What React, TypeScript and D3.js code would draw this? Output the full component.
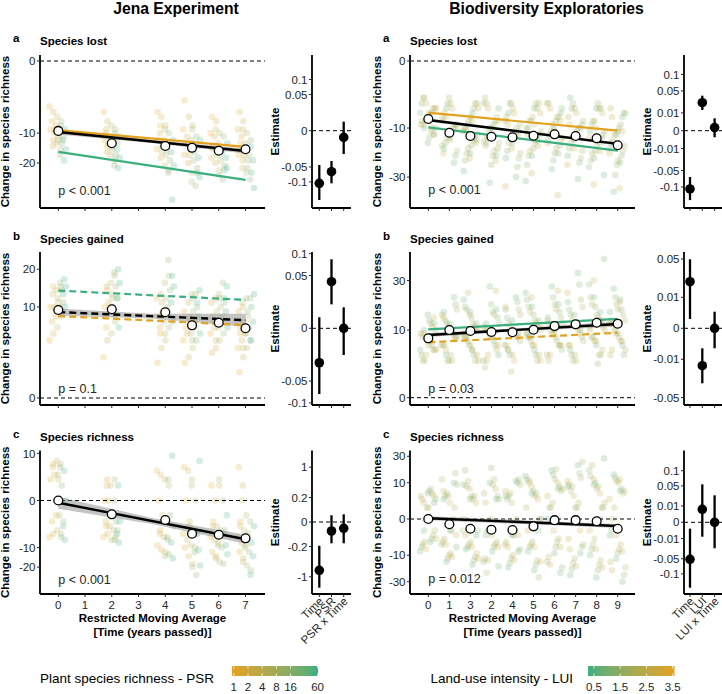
import React from "react";
import * as d3 from "d3";

const FONT = "'Liberation Sans', Arial, Helvetica, sans-serif";
const INK = "#262626";
const ORANGE = "#E2A21F";
const GREEN = "#3BAF7E";

// ---------------- Jena Experiment ----------------
const jenaTimes = [0, 2, 4, 5, 6, 7];
const jenaTickTimes = [0, 1, 2, 3, 4, 5, 6, 7];
const psrLevels = [1, 2, 4, 8, 16, 60];

// values per time step, then per sown plant species richness level
const jenaLost = [
  [[-4, -7, -9, -12], [-5, -8, -10, -14], [-6, -9, -11, -13], [-7, -10, -12, -15], [-8, -11, -13, -17], [-9, -12, -15, -19]],
  [[-5, -9, -12, -14], [-7, -10, -13, -16], [-8, -11, -14, -17], [-9, -12, -15, -19], [-10, -13, -17, -21], [-11, -15, -18, -22]],
  [[-5, -8, -12, -15], [-6, -10, -14, -18], [-8, -12, -16, -21], [-9, -13, -17, -23], [-10, -15, -19, -24], [-12, -16, -21, -37]],
  [[-3, -9, -13, -17], [-6, -11, -15, -20], [-8, -12, -17, -24], [-9, -14, -19, -28], [-11, -16, -22, -30], [-12, -18, -24, -26]],
  [[-6, -10, -14, -18], [-7, -11, -15, -20], [-9, -13, -17, -23], [-10, -14, -19, -25], [-11, -16, -21, -27], [-13, -18, -23, -22]],
  [[-5, -9, -13, -17], [-7, -11, -15, -19], [-9, -13, -17, -22], [-10, -15, -19, -24], [-12, -17, -22, -27], [-14, -19, -24, -31]],
];
const jenaGained = [
  [[4, 7, 10, 15], [5, 8, 10, 13], [6, 9, 11, 14], [8, 10, 12, 15], [9, 11, 14, 16], [10, 13, 15, 17]],
  [[2, 6, 10, 14], [4, 8, 11, 15], [5, 9, 12, 16], [7, 10, 13, 18], [8, 12, 15, 19], [6, 12, 16, 20]],
  [[1.5, 5, 8, 12], [3, 6, 9, 13], [4, 7, 11, 16], [5, 9, 12, 18], [6, 10, 14, 23], [7, 11, 15, 18]],
  [[1.5, 4, 6, 9], [2, 5, 7, 11], [3, 5, 8, 12], [4, 6, 9, 13], [4, 7, 10, 13], [5, 8, 11, 14]],
  [[2.5, 5, 7, 11], [3, 6, 8, 12], [4, 6, 9, 12], [4, 7, 10, 13], [5, 8, 11, 16], [6, 9, 12, 15]],
  [[0.8, 3, 5, 9], [2, 4, 6, 10], [3, 5, 7, 11], [3, 5, 8, 12], [4, 6, 9, 12], [4, 7, 10, 13]],
];
const jenaRichness = [
  [[-6, -2, 2, 6], [-5, -1, 3, 5], [-4, 0, 2, 7], [-5, -1, 3, 6], [-6, -2, 1, 5], [-7, -3, 0, 4]],
  [[-6, -3, 0, 2], [-5, -2, 0, 1], [-7, -3, -1, 1], [-6, -4, -1, 2], [-7, -4, -2, 0], [-8, -5, -2, 1]],
  [[-9, -4, 0, 4], [-11, -5, -1, 3], [-12, -6, -2, 2], [-14, -7, -2, 1], [-13, -6, -1, 2], [-15, -8, -3, 9]],
  [[-10, -5, 0, 5], [-14, -7, -2, 4], [-18, -9, -3, 2], [-20, -10, -4, 1], [-25, -12, -5, 0], [-19, -11, -5, 7]],
  [[-12, -6, -2, 1], [-14, -7, -3, 0], [-15, -8, -3, 1], [-17, -9, -4, 2], [-18, -10, -4, 0], [-13, -9, -5, -1]],
  [[-12, -6, -2, 5], [-15, -8, -3, 1], [-17, -9, -4, 0], [-19, -10, -5, -1], [-22, -12, -6, -2], [-25, -14, -8, -3]],
];

const jenaLostMean = [-9.4, -13.0, -13.9, -14.5, -15.5, -15.0];
const jenaGainedMean = [9.34, 9.5, 8.86, 6.37, 6.84, 5.86];
const jenaRichnessMean = [0, -0.86, -1.71, -4.96, -5.27, -6.44];

// fitted lines: value at first and last time step; bands: first, middle, last
const jenaLostFit = [-9.7, -15.6];
const jenaLostBandLo = [-10.4, -12.97, -16.5];
const jenaLostBandHi = [-9.02, -11.99, -14.75];
const jenaLostLowPSR = [-9.2, -14.2];
const jenaLostHighPSR = [-15.9, -27.2];

const jenaGainedFit = [8.9, 7.3];
const jenaGainedBandLo = [8.19, 7.6, 6.13];
const jenaGainedBandHi = [9.64, 8.58, 8.57];
const jenaGainedLowPSR = [8.1, 6.4];
const jenaGainedHighPSR = [13.9, 11.6];

const jenaRichnessFit = [-0.022, -6.78];
const jenaRichnessBandLo = [-0.3, -2.49, -8.45];
const jenaRichnessBandHi = [0.065, -1.38, -5.3];

const jenaTerms = ["Time", "PSR", "PSR x Time"];
const jenaLostEst = [-0.1055, -0.064, -0.0017];
const jenaLostLo = [-0.183, -0.1055, -0.0207];
const jenaLostHi = [-0.0448, -0.035, 0.0031];
const jenaGainedEst = [-0.0213, 0.039, 0];
const jenaGainedLo = [-0.0775, 0.0103, -0.0128];
const jenaGainedHi = [0.0022, 0.0855, 0.0079];
const jenaRichnessEst = [-0.776, -0.027, -0.0132];
const jenaRichnessLo = [-1.437, -0.151, -0.151];
const jenaRichnessHi = [-0.187, 0.0149, 0.0197];

// ---------------- Biodiversity Exploratories ----------------
const beSteps = ["0", "1", "3", "2", "4", "5", "6", "7", "8", "9"];
const luiLevels = [0.7, 1.3, 1.8, 2.3, 2.9];

const beLost = [
  [[-6, -8, -10, -12, -15], [-4, -6, -8, -10, -13], [-3, -5, -7, -9, -11], [-3, -5, -6, -8, -10], [-4, -5, -7, -9, -12]],
  [[-5, -9, -13, -17, -23], [-4, -8, -11, -15, -20], [-3, -7, -10, -13, -18], [-4, -6, -9, -12, -16], [-5, -7, -10, -14, -19]],
  [[-6, -10, -14, -19, -27], [-5, -9, -12, -16, -22], [-4, -8, -11, -14, -19], [-4, -7, -10, -13, -17], [-5, -8, -11, -15, -21]],
  [[-5, -10, -15, -20, -33], [-4, -9, -13, -17, -24], [-3, -8, -11, -15, -20], [-4, -7, -10, -14, -18], [-5, -8, -12, -16, -22]],
  [[-6, -11, -15, -21, -30], [-4, -9, -13, -18, -25], [-4, -8, -12, -15, -21], [-5, -7, -10, -13, -19], [-6, -9, -12, -17, -35]],
  [[-5, -10, -14, -20, -32], [-4, -8, -12, -17, -24], [-5, -8, -11, -15, -20], [-4, -7, -10, -14, -18], [-6, -9, -12, -16, -28]],
  [[-6, -10, -14, -19, -26], [-5, -8, -12, -16, -22], [-4, -7, -11, -14, -19], [-4, -7, -9, -13, -17], [-5, -8, -11, -15, -40]],
  [[-3, -10, -14, -20, -31], [-5, -9, -12, -17, -23], [-4, -8, -11, -15, -21], [-5, -7, -10, -13, -18], [-6, -9, -13, -17, -24]],
  [[-5, -11, -15, -21, -29], [-4, -9, -13, -18, -25], [-5, -8, -12, -16, -22], [-5, -8, -11, -14, -19], [-6, -10, -13, -18, -34]],
  [[-7, -12, -17, -23, -38], [-6, -11, -15, -20, -29], [-6, -10, -14, -18, -24], [-5, -9, -12, -16, -22], [-7, -11, -15, -19, -36]],
];
const beGained = [
  [[5, 8, 10, 12, 15], [4, 6, 8, 10, 13], [3, 5, 7, 9, 12], [3, 5, 6, 8, 11], [4, 5, 7, 9, 14]],
  [[4, 8, 12, 16, 22], [3, 6, 10, 13, 19], [3, 6, 9, 12, 17], [4, 6, 8, 11, 15], [3, 5, 8, 10, 14]],
  [[5, 8, 12, 16, 21], [4, 7, 10, 14, 18], [3, 6, 9, 12, 17], [4, 6, 8, 11, 24], [3, 5, 8, 10, 15]],
  [[4, 8, 12, 17, 27], [3, 7, 10, 14, 19], [2, 6, 9, 12, 16], [3, 5, 8, 11, 15], [4, 6, 8, 10, 25]],
  [[5, 9, 13, 17, 22], [4, 7, 10, 14, 20], [1.5, 6, 9, 12, 17], [4, 6, 8, 11, 15], [3, 5, 8, 10, 18]],
  [[5, 9, 13, 18, 24], [4, 8, 11, 15, 21], [3, 7, 10, 13, 18], [4, 6, 9, 12, 16], [3, 6, 8, 11, 22]],
  [[6, 10, 14, 19, 27], [5, 8, 12, 16, 22], [4, 7, 10, 14, 19], [3, 6, 9, 12, 17], [4, 6, 9, 13, 25]],
  [[5, 10, 15, 20, 34], [4, 8, 12, 17, 28], [3, 7, 11, 15, 21], [4, 6, 10, 13, 18], [3, 6, 9, 12, 24]],
  [[6, 11, 16, 22, 42], [2.5, 8, 13, 18, 28], [4, 8, 11, 15, 22], [4, 7, 10, 14, 19], [5, 7, 10, 13, 30]],
  [[6, 11, 16, 21, 26], [4, 9, 13, 17, 22], [5, 8, 12, 15, 19], [4, 7, 10, 13, 17], [5, 7, 9, 12, 20]],
];
const beRichness = [
  [[-8, -4, -1, 2, 5], [-6, -3, 0, 3, 6], [-5, -2, 1, 4, 7], [-4, -1, 1, 3, 5], [-7, -3, 0, 2, 4]],
  [[-14, -6, -1, 3, 10], [-12, -5, -1, 4, 16], [-10, -4, 0, 5, 9], [-9, -3, 1, 4, 12], [-11, -5, -2, 2, 6]],
  [[-16, -7, -2, 3, 9], [-13, -6, -1, 4, 18], [-11, -5, -1, 3, 8], [-9, -4, 0, 4, 11], [-12, -6, -2, 2, 7]],
  [[-17, -8, -2, 3, 10], [-14, -6, -1, 4, 20], [-12, -5, -1, 3, 9], [-22, -4, 0, 5, 12], [-13, -6, -2, 2, 7]],
  [[-18, -8, -2, 4, 11], [-15, -7, -2, 3, 10], [-12, -5, -1, 4, 12], [-10, -4, 0, 5, 9], [-13, -6, -2, 2, 6]],
  [[-20, -8, -1, 5, 14], [-16, -6, 0, 6, 12], [-13, -5, 0, 4, 10], [-26, -4, 1, 5, 11], [-14, -6, -1, 3, 8]],
  [[-22, -9, 0, 7, 18], [-18, -6, 1, 8, 15], [-14, -4, 1, 6, 12], [-11, -3, 2, 7, 19], [-16, -6, -1, 4, 10]],
  [[-24, -9, 0, 8, 22], [-19, -6, 1, 9, 16], [-15, -5, 1, 6, 13], [-12, -3, 2, 8, 25], [-17, -7, -1, 4, 11]],
  [[-26, -10, 0, 9, 28], [-20, -7, 1, 10, 18], [-16, -5, 1, 7, 14], [-13, -3, 2, 8, 22], [-18, -7, -1, 5, 12]],
  [[-30, -12, -2, 6, 15], [-24, -9, -1, 7, 13], [-18, -7, 0, 5, 11], [-14, -5, 1, 6, 10], [-20, -8, -2, 3, 12]],
];

const beLostMean = [-7.49, -11.44, -12.52, -12.75, -12.96, -12.42, -11.96, -12.52, -13.3, -15.8];
const beGainedMean = [7.7, 10.0, 9.71, 9.43, 9.34, 10.1, 11.2, 11.76, 12.28, 11.96];
const beRichnessMean = [0, -0.21, -0.72, -0.87, -0.92, -0.41, -0.01, -0.01, -0.04, -0.72];

const beLostFit = [-7.75, -15.3];
const beLostBandLo = [-8.15, -11.55, -15.86];
const beLostBandHi = [-7.37, -10.88, -14.76];
const beLostHighLUI = [-5.95, -10.8];
const beLostLowLUI = [-9.78, -17.9];

const beGainedFit = [8.58, 11.86];
const beGainedBandLo = [8.04, 9.71, 11.07];
const beGainedBandHi = [9.13, 10.6, 12.68];
const beGainedHighLUI = [6.7, 9.22];
const beGainedLowLUI = [10.2, 13.6];

const beRichnessFit = [0.004, -0.374];
const beRichnessBandLo = [-0.013, -0.2, -0.618];
const beRichnessBandHi = [0.056, -0.01, -0.19];

const beTerms = ["Time", "LUI", "LUI x Time"];
const beLostEst = [-0.107, 0.0247, 0.0003];
const beLostLo = [-0.152, 0.0135, -0.00137];
const beLostHi = [-0.0676, 0.0387, 0.00485];
const beGainedEst = [0.0226, -0.01455, 0];
const beGainedLo = [0.0009, -0.0315, -0.00416];
const beGainedHi = [0.0496, -0.00416, 0.00287];
const beRichnessEst = [-0.0515, 0.00637, 0];
const beRichnessLo = [-0.161, -0.0078, -0.0254];
const beRichnessHi = [-0.0015, 0.0543, 0.0274];

// ---------------- legends ----------------
const psrLegendTicks = [1, 2, 4, 8, 16, 60];
const luiLegendTicks = [0.5, 1.5, 2.5, 3.5];

// ---------------- helpers ----------------
function ySqrt(zero: number, k: number, top: number, bot: number) {
  const hi = Math.pow((zero - top) / k, 2);
  const lo = -Math.pow((bot - zero) / k, 2);
  return d3.scaleSqrt().domain([lo, hi]).range([bot, top]);
}

const psrColor = (v: number) => d3.interpolateLab(ORANGE, GREEN)(Math.log2(v) / Math.log2(60));
const luiColor = (v: number) => d3.interpolateLab(GREEN, ORANGE)(Math.max(0, Math.min(1, (v - 0.27) / 3.3)));

type Pt = { x: number; y: number; c: string };

function jenaPoints(data: number[][][]): Pt[] {
  const out: Pt[] = [];
  data.forEach((byPsr, ti) => {
    byPsr.forEach((vals, pi) => {
      vals.forEach((v, j) => {
        const jit = (((j * 0.618 + pi * 0.29 + ti * 0.13) % 1) - 0.5) * 0.16;
        out.push({ x: jenaTimes[ti] + (pi - 2.5) * 0.1 + jit, y: v, c: psrColor(psrLevels[pi]) });
      });
    });
  });
  return out;
}

function bePoints(data: number[][][]): Pt[] {
  const out: Pt[] = [];
  data.forEach((byLui, ci) => {
    let n = 0;
    byLui.forEach((vals, li) => {
      vals.forEach((v) => {
        const off = (((n * 0.618034 + ci * 0.31) % 1) - 0.5) * 0.78;
        n++;
        out.push({ x: ci + off, y: v, c: luiColor(luiLevels[li]) });
      });
    });
  });
  return out;
}

type Fit = { ys: number[]; color: string; dash?: string; width: number };

type MainProps = {
  xs: d3.ScaleLinear<number, number>;
  ys: d3.ScalePower<number, number>;
  x0: number; x1: number; top: number; bot: number;
  xTicks: number[]; xLabels?: string[];
  yTicks: number[];
  pts: Pt[];
  xFirst: number; xLast: number;
  bandLo: number[]; bandHi: number[];
  fits: Fit[];
  meanX: number[]; means: number[];
  pText: string; pY: number;
  letter: string; letterX: number; title: string; titleY: number;
  yTitleX: number;
};

function MainPanel(p: MainProps) {
  const { xs, ys } = p;
  const xMid = (p.xFirst + p.xLast) / 2;
  const bandData = [0, 1, 2].map((i) => ({ x: [p.xFirst, xMid, p.xLast][i], lo: p.bandLo[i], hi: p.bandHi[i] }));
  const area = d3.area<{ x: number; lo: number; hi: number }>()
    .x((d) => xs(d.x)).y0((d) => ys(d.lo)).y1((d) => ys(d.hi));
  const line = d3.line<[number, number]>().x((d) => xs(d[0])).y((d) => ys(d[1]));
  const cy = (p.top + p.bot) / 2;
  return (
    <g>
      {p.pts.map((d, i) => (
        <circle key={i} cx={xs(d.x)} cy={ys(d.y)} r={3.3} fill={d.c} fillOpacity={0.22} />
      ))}
      <line x1={p.x0} x2={p.x1} y1={ys(0)} y2={ys(0)} stroke="#000" strokeWidth={1} strokeDasharray="4,3" />
      <path d={area(bandData) || ""} fill="#8a8a8a" fillOpacity={0.5} />
      {p.fits.map((f, i) => (
        <path key={i} d={line([[p.xFirst, f.ys[0]], [p.xLast, f.ys[1]]]) || ""} stroke={f.color}
          strokeWidth={f.width} strokeDasharray={f.dash} fill="none" />
      ))}
      {p.means.map((m, i) => (
        <circle key={i} cx={xs(p.meanX[i])} cy={ys(m)} r={4.4} fill="#fff" stroke="#000" strokeWidth={1.3} />
      ))}
      <line x1={p.x0} x2={p.x0} y1={p.top} y2={p.bot} stroke="#000" strokeWidth={1.8} />
      <line x1={p.x0} x2={p.x1} y1={p.bot} y2={p.bot} stroke="#000" strokeWidth={1.8} />
      {p.yTicks.map((t) => (
        <g key={t}>
          <line x1={p.x0 - 3} x2={p.x0} y1={ys(t)} y2={ys(t)} stroke={INK} strokeWidth={1} />
          <text x={p.x0 - 4.5} y={ys(t)} dy="0.36em" textAnchor="end" fontSize={11.5} fill={INK}>{String(t)}</text>
        </g>
      ))}
      {p.xTicks.map((t, i) => (
        <g key={i}>
          <line x1={xs(t)} x2={xs(t)} y1={p.bot} y2={p.bot + 3} stroke={INK} strokeWidth={1} />
          {p.xLabels && (
            <text x={xs(t)} y={p.bot + 14.5} textAnchor="middle" fontSize={11.5} fill={INK}>{p.xLabels[i]}</text>
          )}
        </g>
      ))}
      <text x={xs(p.xFirst)} y={p.pY} fontSize={12.5} fill={INK}>{p.pText}</text>
      <text x={p.letterX} y={p.titleY - 3} fontSize={11.5} fontWeight="bold" fill="#000">{p.letter}</text>
      <text x={p.x0} y={p.titleY} fontSize={11.5} fontWeight="bold" fill="#000">{p.title}</text>
      <text transform={`translate(${p.yTitleX},${cy}) rotate(-90)`} textAnchor="middle" fontSize={11.5}
        fontWeight="bold" fill="#000">Change in species richness</text>
    </g>
  );
}

type EstProps = {
  ys: d3.ScalePower<number, number>;
  x0: number; x1: number; t0: number; t1: number;
  top: number; bot: number;
  terms: string[]; est: number[]; lo: number[]; hi: number[];
  yTicks: number[]; showLabels: boolean; titleX: number;
};

function EstPanel(p: EstProps) {
  const xs = d3.scalePoint<string>().domain(p.terms).range([p.t0, p.t1]);
  const ys = p.ys;
  const cy = (p.top + p.bot) / 2;
  return (
    <g>
      <line x1={p.x0} x2={p.x1} y1={ys(0)} y2={ys(0)} stroke="#000" strokeWidth={1} strokeDasharray="4,3" />
      {p.terms.map((t, i) => (
        <g key={t}>
          <line x1={xs(t)} x2={xs(t)} y1={ys(p.lo[i])} y2={ys(p.hi[i])} stroke="#000" strokeWidth={2.3} />
          <circle cx={xs(t)} cy={ys(p.est[i])} r={4.8} fill="#000" />
        </g>
      ))}
      <line x1={p.x0} x2={p.x0} y1={p.top} y2={p.bot} stroke="#000" strokeWidth={1.8} />
      <line x1={p.x0} x2={p.x1} y1={p.bot} y2={p.bot} stroke="#000" strokeWidth={1.8} />
      {p.yTicks.map((t) => (
        <g key={t}>
          <line x1={p.x0 - 3} x2={p.x0} y1={ys(t)} y2={ys(t)} stroke={INK} strokeWidth={1} />
          <text x={p.x0 - 4.5} y={ys(t)} dy="0.36em" textAnchor="end" fontSize={11.5} fill={INK}>{String(t)}</text>
        </g>
      ))}
      {p.terms.map((t) => (
        <g key={t}>
          <line x1={xs(t)} x2={xs(t)} y1={p.bot} y2={p.bot + 3} stroke={INK} strokeWidth={1} />
          {p.showLabels && (
            <text transform={`translate(${(xs(t) || 0) + 2},${p.bot + 5}) rotate(-45)`} dy="0.35em"
              textAnchor="end" fontSize={11.5} fill={INK}>{t}</text>
          )}
        </g>
      ))}
      <text transform={`translate(${p.titleX},${cy}) rotate(-90)`} textAnchor="middle" fontSize={11.5}
        fontWeight="bold" fill="#000">Estimate</text>
    </g>
  );
}

const ROWS = [
  { top: 55, bot: 208, titleY: 45 },
  { top: 252, bot: 405, titleY: 242.5 },
  { top: 450.5, bot: 594, titleY: 441 },
];

export default function App() {
  const jx = d3.scaleLinear().domain([0, 7]).range([58.3, 245.5]);
  const bx = d3.scaleLinear().domain([0, 9]).range([428.3, 617.7]);
  const beIdx = beSteps.map((_, i) => i);

  const jenaRows = [
    {
      ys: ySqrt(61, 22.8, ROWS[0].top, ROWS[0].bot), yTicks: [0, -10, -20], data: jenaLost, means: jenaLostMean,
      fit: jenaLostFit, lo: jenaLostBandLo, hi: jenaLostBandHi,
      extra: [{ ys: jenaLostLowPSR, color: ORANGE, width: 2.2 }, { ys: jenaLostHighPSR, color: GREEN, width: 2.2 }],
      dashed: false, p: "p < 0.001", pY: 195, letter: "a", title: "Species lost",
      est: { ys: ySqrt(130.7, 162, ROWS[0].top, ROWS[0].bot), e: jenaLostEst, lo: jenaLostLo, hi: jenaLostHi, t: [0.1, 0.05, 0, -0.05, -0.1] },
    },
    {
      ys: ySqrt(398, 28.8, ROWS[1].top, ROWS[1].bot), yTicks: [0, 10, 20], data: jenaGained, means: jenaGainedMean,
      fit: jenaGainedFit, lo: jenaGainedBandLo, hi: jenaGainedBandHi,
      extra: [{ ys: jenaGainedLowPSR, color: ORANGE, width: 2.2, dash: "7,4" }, { ys: jenaGainedHighPSR, color: GREEN, width: 2.2, dash: "7,4" }],
      dashed: true, p: "p = 0.1", pY: 392.5, letter: "b", title: "Species gained",
      est: { ys: ySqrt(328.3, 236, ROWS[1].top, ROWS[1].bot), e: jenaGainedEst, lo: jenaGainedLo, hi: jenaGainedHi, t: [0.1, 0.05, 0, -0.05, -0.1] },
    },
    {
      ys: ySqrt(500.5, 14.9, ROWS[2].top, ROWS[2].bot), yTicks: [10, 0, -10, -20], data: jenaRichness, means: jenaRichnessMean,
      fit: jenaRichnessFit, lo: jenaRichnessBandLo, hi: jenaRichnessBandHi,
      extra: [] as Fit[], dashed: false, p: "p < 0.001", pY: 584, letter: "c", title: "Species richness",
      est: { ys: ySqrt(522, 54.8, ROWS[2].top, ROWS[2].bot), e: jenaRichnessEst, lo: jenaRichnessLo, hi: jenaRichnessHi, t: [1, 0.2, 0, -0.2, -1] },
    },
  ];

  const beRows = [
    {
      ys: ySqrt(61, 21.2, ROWS[0].top, ROWS[0].bot), yTicks: [0, -10, -30], data: beLost, means: beLostMean,
      fit: beLostFit, lo: beLostBandLo, hi: beLostBandHi,
      extra: [{ ys: beLostHighLUI, color: ORANGE, width: 2.2 }, { ys: beLostLowLUI, color: GREEN, width: 2.2 }],
      p: "p < 0.001", pY: 194, letter: "a", title: "Species lost",
      est: { ys: ySqrt(130.7, 178, ROWS[0].top, ROWS[0].bot), e: beLostEst, lo: beLostLo, hi: beLostHi, t: [0.1, 0.05, 0.01, 0, -0.01, -0.05, -0.1] },
    },
    {
      ys: ySqrt(397.7, 21.4, ROWS[1].top, ROWS[1].bot), yTicks: [0, 10, 30], data: beGained, means: beGainedMean,
      fit: beGainedFit, lo: beGainedBandLo, hi: beGainedBandHi,
      extra: [{ ys: beGainedHighLUI, color: ORANGE, width: 2.2, dash: "7,4" }, { ys: beGainedLowLUI, color: GREEN, width: 2.2 }],
      p: "p = 0.03", pY: 392.5, letter: "b", title: "Species gained",
      est: { ys: ySqrt(328.3, 310, ROWS[1].top, ROWS[1].bot), e: beGainedEst, lo: beGainedLo, hi: beGainedHi, t: [0.05, 0.01, 0, -0.01, -0.05] },
    },
    {
      ys: ySqrt(519, 11.45, ROWS[2].top, ROWS[2].bot), yTicks: [30, 10, 0, -10, -30], data: beRichness, means: beRichnessMean,
      fit: beRichnessFit, lo: beRichnessBandLo, hi: beRichnessBandHi,
      extra: [] as Fit[], p: "p = 0.012", pY: 583, letter: "c", title: "Species richness",
      est: { ys: ySqrt(522.3, 163, ROWS[2].top, ROWS[2].bot), e: beRichnessEst, lo: beRichnessLo, hi: beRichnessHi, t: [0.1, 0.05, 0.01, 0, -0.01, -0.05, -0.1] },
    },
  ];

  const psrPos = d3.scaleLog().base(2).domain([1, 60]).range([233.8, 317.6]);
  const luiPos = d3.scaleLinear().domain([0.5, 3.5]).range([594, 672.7]);
  const stops = d3.range(0, 1.0001, 0.1);

  return (
    <svg width={722} height={694} style={{ position: "absolute", left: 0, top: 0, background: "#fff" }}
      fontFamily={FONT}>
      <defs>
        <linearGradient id="psrGrad" x1="0" x2="1" y1="0" y2="0">
          {stops.map((s) => <stop key={s} offset={s} stopColor={d3.interpolateLab(ORANGE, GREEN)(s)} />)}
        </linearGradient>
        <linearGradient id="luiGrad" x1="0" x2="1" y1="0" y2="0">
          {stops.map((s) => <stop key={s} offset={s} stopColor={d3.interpolateLab(GREEN, ORANGE)(s)} />)}
        </linearGradient>
      </defs>
      <rect x={0} y={0} width={722} height={694} fill="#fff" />

      <text x={176} y={13.5} textAnchor="middle" fontSize={15.7} fontWeight="bold" fill="#000">Jena Experiment</text>
      <text x={546.5} y={13.5} textAnchor="middle" fontSize={15.7} fontWeight="bold" fill="#000">Biodiversity Exploratories</text>

      {jenaRows.map((r, i) => (
        <g key={"j" + i}>
          <MainPanel xs={jx} ys={r.ys} x0={40} x1={265} top={ROWS[i].top} bot={ROWS[i].bot}
            xTicks={jenaTickTimes} xLabels={i === 2 ? jenaTickTimes.map(String) : undefined}
            yTicks={r.yTicks} pts={jenaPoints(r.data)} xFirst={0} xLast={7}
            bandLo={r.lo} bandHi={r.hi}
            fits={[...r.extra, { ys: r.fit, color: "#000", width: 2.4, dash: r.dashed ? "7,4" : undefined }]}
            meanX={jenaTimes} means={r.means} pText={r.p} pY={r.pY}
            letter={r.letter} letterX={13} title={r.title} titleY={ROWS[i].titleY} yTitleX={8.5} />
          <EstPanel ys={r.est.ys} x0={312} x1={351} t0={319.3} t1={343.7} top={ROWS[i].top} bot={ROWS[i].bot}
            terms={jenaTerms} est={r.est.e} lo={r.est.lo} hi={r.est.hi} yTicks={r.est.t}
            showLabels={i === 2} titleX={279} />
        </g>
      ))}

      {beRows.map((r, i) => (
        <g key={"b" + i}>
          <MainPanel xs={bx} ys={r.ys} x0={410} x1={635} top={ROWS[i].top} bot={ROWS[i].bot}
            xTicks={beIdx} xLabels={i === 2 ? beSteps : undefined}
            yTicks={r.yTicks} pts={bePoints(r.data)} xFirst={0} xLast={9}
            bandLo={r.lo} bandHi={r.hi}
            fits={[...r.extra, { ys: r.fit, color: "#000", width: 2.4 }]}
            meanX={beIdx} means={r.means} pText={r.p} pY={r.pY}
            letter={r.letter} letterX={383} title={r.title} titleY={ROWS[i].titleY} yTitleX={380.5} />
          <EstPanel ys={r.est.ys} x0={684} x1={722} t0={690} t1={714.6} top={ROWS[i].top} bot={ROWS[i].bot}
            terms={beTerms} est={r.est.e} lo={r.est.lo} hi={r.est.hi} yTicks={r.est.t}
            showLabels={i === 2} titleX={650.5} />
        </g>
      ))}

      {[152.5, 522.5].map((cx) => (
        <g key={cx}>
          <text x={cx} y={622} textAnchor="middle" fontSize={11.5} fontWeight="bold" fill="#000">Restricted Moving Average</text>
          <text x={cx} y={636} textAnchor="middle" fontSize={11.5} fontWeight="bold" fill="#000">[Time (years passed)]</text>
        </g>
      ))}

      {/* colour legends */}
      <text x={214} y={683} textAnchor="end" fontSize={13.5} fill="#000">Plant species richness - PSR</text>
      <rect x={232} y={666} width={86} height={10} fill="url(#psrGrad)" />
      {psrLegendTicks.map((t) => (
        <g key={t}>
          <line x1={psrPos(t)} x2={psrPos(t)} y1={666} y2={668.5} stroke="#fff" strokeWidth={0.8} />
          <line x1={psrPos(t)} x2={psrPos(t)} y1={673.5} y2={676} stroke="#fff" strokeWidth={0.8} />
          <text x={psrPos(t)} y={691} textAnchor="middle" fontSize={11.5} fill={INK}>{String(t)}</text>
        </g>
      ))}
      <text x={573} y={683} textAnchor="end" fontSize={13.5} fill="#000">Land-use intensity - LUI</text>
      <rect x={588} y={666} width={86.5} height={10} fill="url(#luiGrad)" />
      {luiLegendTicks.map((t) => (
        <g key={t}>
          <line x1={luiPos(t)} x2={luiPos(t)} y1={666} y2={668.5} stroke="#fff" strokeWidth={0.8} />
          <line x1={luiPos(t)} x2={luiPos(t)} y1={673.5} y2={676} stroke="#fff" strokeWidth={0.8} />
          <text x={luiPos(t)} y={691} textAnchor="middle" fontSize={11.5} fill={INK}>{String(t)}</text>
        </g>
      ))}
    </svg>
  );
}
